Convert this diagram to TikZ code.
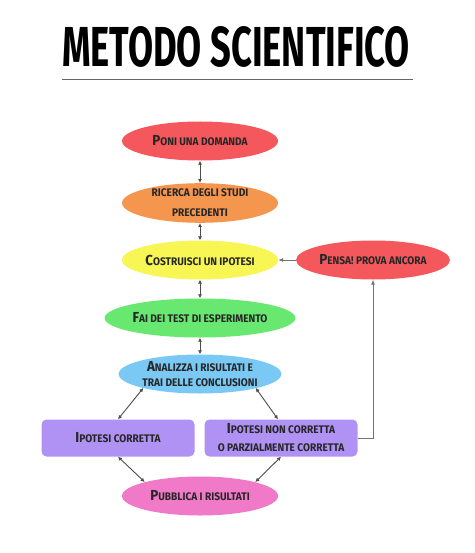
\documentclass[tikz,border=0pt]{standalone}
\usepackage{fontspec}
\usepackage{graphicx}
\setmainfont{Fira Sans}
\newfontfamily\handfont{Fira Sans}[FakeStretch=0.92]
\usetikzlibrary{shapes.geometric,arrows.meta}
\definecolor{cred}{RGB}{244,88,92}
\definecolor{corange}{RGB}{245,150,78}
\definecolor{cyellow}{RGB}{248,246,84}
\definecolor{cgreen}{RGB}{104,232,112}
\definecolor{cblue}{RGB}{122,200,244}
\definecolor{cpurple}{RGB}{176,146,245}
\definecolor{cpink}{RGB}{240,122,200}
\newcommand{\bigc}[1]{{\fontsize{14.5}{14.5}\selectfont #1}}
\tikzset{
  stepell/.style={ellipse, minimum width=156pt, minimum height=39pt, inner sep=0pt, align=center,
    font=\handfont\bfseries\fontsize{11}{17}\selectfont, text=black!85},
  steprect/.style={rectangle, rounded corners=5pt, fill=cpurple, minimum width=153pt, minimum height=37pt,
    inner sep=0pt, align=center, font=\handfont\bfseries\fontsize{11}{18}\selectfont, text=black!85},
  link/.style={draw=black!70, line width=0.9pt, {Latex[length=4pt,width=4pt]}-{Latex[length=4pt,width=4pt]}},
  onelink/.style={draw=black!55, line width=0.8pt, -{Latex[length=5pt,width=4pt]}}
}
\begin{document}
\begin{tikzpicture}[x=1pt,y=-1pt]
\useasboundingbox (0,0) rectangle (474,553);
\fill[white] (0,0) rectangle (474,553);
\node (title) at (236,47) {\resizebox{348pt}{40pt}{\bfseries METODO SCIENTIFICO}};
\draw[black!60, line width=1pt] (62,80) -- (413,80);

\node[stepell, fill=cred] (q) at (200,141) {\bigc{P}ONI UNA DOMANDA};
\node[stepell, fill=corange, font=\handfont\bfseries\fontsize{11}{20}\selectfont] (r) at (200,203) {RICERCA DEGLI STUDI\\PRECEDENTI};
\node[stepell, fill=cyellow] (h) at (200,260) {\bigc{C}OSTRUISCI UN IPOTESI};
\node[stepell, fill=cgreen] (t) at (200,318) {\bigc{F}AI DEI TEST DI ESPERIMENTO};
\node[stepell, fill=cblue, font=\handfont\bfseries\fontsize{11}{15}\selectfont] (a) at (200,374) {\bigc{A}NALIZZA I RISULTATI E\\TRAI DELLE CONCLUSIONI};
\node[stepell, fill=cred, minimum width=154pt] (p) at (373,260) {\bigc{P}ENSA! PROVA ANCORA};
\node[steprect] (ok) at (118,438) {\bigc{I}POTESI CORRETTA};
\node[steprect] (ko) at (281,438) {\bigc{I}POTESI NON CORRETTA\\O PARZIALMENTE CORRETTA};
\node[stepell, fill=cpink] (pub) at (200,496) {\bigc{P}UBBLICA I RISULTATI};

\draw[link] (q) -- (r);
\draw[link] (r) -- (h);
\draw[link] (h) -- (t);
\draw[link] (t) -- (a);
\draw[link] (a.south west) ++(1,0) coordinate (a1) (a1) -- (ok.north);
\coordinate (a2) at ([xshift=-2pt]a.south east);
\draw[link] (a2) -- ([xshift=-3pt]ko.north);
\draw[link] (ok.south) -- (pub.north west);
\draw[link] (ko.south) -- (pub.north east);
\coordinate (bend) at (373,438);
\draw[onelink] (ko.east) -- (bend) -- (p.south);
\draw[onelink] (p.west) -- (h.east);
\end{tikzpicture}
\end{document}
